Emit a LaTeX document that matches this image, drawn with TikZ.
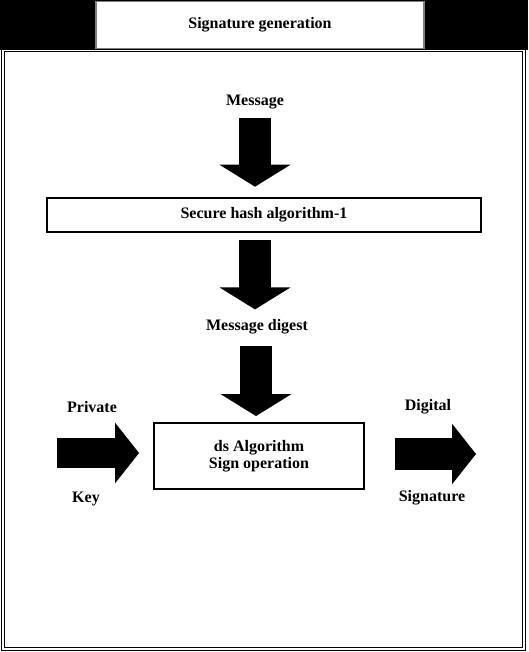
\documentclass[tikz,border=0pt]{standalone}
\usepackage{fontspec}
\setmainfont{Liberation Serif}
\usetikzlibrary{arrows.meta}

\begin{document}
\begin{tikzpicture}[x=0.75pt,y=-0.75pt,
    lbl/.style={inner sep=0pt,font=\fontsize{12}{12.5}\selectfont\bfseries},
    stagebox/.style={lbl,draw,line width=1.4pt,fill=white,align=center},
    vblock/.style={line width=24pt,-{Triangle[length=16.5pt,width=52.5pt]}},
    hblock/.style={line width=22.5pt,-{Triangle[length=18pt,width=44.5pt]}}]
    \useasboundingbox (0,0) rectangle (528,652);

    % Frame and title bar
    \draw[line width=0.7pt,double,double distance=1.2pt] (3,50) rectangle (524,649);
    \fill[black] (0,0) rectangle (528,50);
    \node[stagebox,draw=gray,line width=1pt,minimum width=246pt,minimum height=35pt] (title) at (260,25) {Signature generation};

    % Stages
    \node[lbl] (msg) at (255,102) {Message};
    \node[stagebox,minimum width=326pt,minimum height=26pt] (sha) at (264,215) {Secure hash algorithm-1};
    \node[lbl] (digest) at (257,327) {Message digest};
    \node[stagebox,minimum width=157.5pt,minimum height=49.5pt] (ds) at (259,456) {ds Algorithm\\Sign operation};

    % Side labels
    \node[lbl] (private) at (92,407) {Private};
    \node[lbl] (key) at (86,499) {Key};
    \node[lbl] (digital) at (428,407) {Digital};
    \node[lbl] (signature) at (432,498) {Signature};
    \coordinate (keyin) at (57,453);
    \coordinate (sigout) at (476,454);

    % Block arrows
    \draw[vblock,shorten <=6.5pt,shorten >=7.5pt] (msg) -- (msg |- sha.north);
    \draw[vblock,shorten <=5.25pt,shorten >=7.5pt] (msg |- sha.south) -- (msg |- digest.north);
    \draw[vblock,shorten <=8.25pt,shorten >=4.5pt] ([xshift=-0.75pt]digest.south) -- ([xshift=-0.75pt]digest.south |- ds.north);
    \draw[hblock,shorten >=10.5pt] (keyin) -- (keyin -| ds.west);
    \draw[hblock,line width=24pt,shorten <=22.5pt] (ds.east |- sigout) -- (sigout);
\end{tikzpicture}
\end{document}
